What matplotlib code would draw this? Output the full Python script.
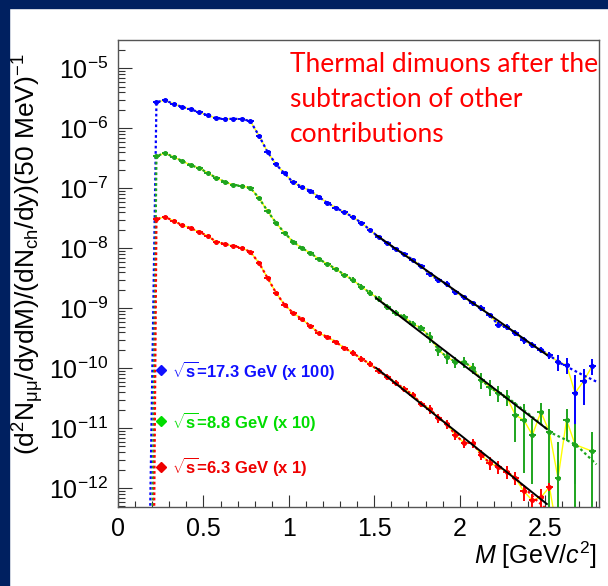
import numpy as np
import matplotlib
matplotlib.use("Agg")
import matplotlib.pyplot as plt
from matplotlib.patches import Rectangle
from matplotlib.ticker import FixedLocator, MultipleLocator, NullFormatter, LogFormatterSciNotation

plt.rcParams['font.family'] = ['Liberation Sans', 'DejaVu Sans']
plt.rcParams['mathtext.fontset'] = 'custom'
plt.rcParams['mathtext.rm'] = 'Liberation Sans'
plt.rcParams['mathtext.it'] = 'Liberation Sans:italic'
plt.rcParams['mathtext.bf'] = 'Liberation Sans:bold'

# ---------------- data ----------------
# bin centres of the invariant-mass spectrum, GeV/c^2 (50 MeV bins)
mass = np.round(np.arange(0.225, 2.80, 0.05), 3)

# log10 of the yields (sqrt(s)=17.3 x100, 8.8 x10, 6.3 x1)
blue_log10 = [-5.56, -5.53, -5.59, -5.64, -5.68, -5.73, -5.78, -5.83, -5.84, -5.84, -5.84, -5.88,
              -6.12, -6.39, -6.60, -6.75, -6.90, -6.97, -7.04, -7.14, -7.24, -7.32, -7.40,
              -7.475, -7.575, -7.69, -7.81, -7.91, -8.01, -8.09, -8.19, -8.29, -8.43, -8.53, -8.59,
              -8.73, -8.81, -8.91, -8.99, -9.11, -9.27, -9.31, -9.41, -9.53, -9.61, -9.69, -9.78,
              -9.89, -9.94, -10.41, -10.21, -9.96]
green_log10 = [-6.46, -6.41, -6.475, -6.54, -6.61, -6.66, -6.74, -6.825, -6.89, -6.94, -6.96, -6.99,
               -7.16, -7.375, -7.575, -7.74, -7.89, -7.99, -8.075, -8.175, -8.26, -8.34, -8.44,
               -8.525, -8.64, -8.74, -8.84, -8.975, -9.075, -9.14, -9.26, -9.325, -9.475, -9.69, -9.81,
               -9.89, -9.89, -9.99, -10.19, -10.31, -10.41, -10.475, -10.775, -10.86, -11.11, -10.725,
               -11.06, -11.83, -10.86, -11.27, np.nan, -11.38]
red_log10 = [-7.51, -7.475, -7.54, -7.61, -7.66, -7.725, -7.79, -7.89, -7.925, -7.96, -7.99, -8.06,
             -8.24, -8.49, -8.74, -8.94, -9.075, -9.175, -9.29, -9.41, -9.475, -9.56, -9.66,
             -9.74, -9.84, -9.925, -10.04, -10.14, -10.24, -10.34, -10.44, -10.59, -10.675, -10.825,
             -10.925, -11.11, -11.24, -11.24, -11.44, -11.575, -11.64, -11.72, -11.825, -12.05, -12.2,
             -12.15, -11.975, -12.8, np.nan, np.nan, np.nan, np.nan]

# relative (symmetric) errors
blue_relerr = [0.04] * 23 + [0.08] * 9 + [0.10] * 9 + [0.12] * 6 + [0.3, 0.3, 0.97, 0.6, 0.3]
green_relerr = [0.04] * 23 + [0.12] * 9 + [0.22] * 6 + [0.3] * 4 + \
               [0.65, 0.87, 0.85, 0.4, 1.4, 3.0, 0.55, 1.2, np.nan, 1.1]
red_relerr = [0.05] * 23 + [0.10] * 9 + [0.18] * 7 + [0.25] * 4 + \
             [0.3, 0.3, 0.4, 0.15, 0.3, np.nan, np.nan, np.nan, np.nan]

# model (dotted) curves: low-mass onset and high-mass tails
blue_onset = (0.185, -13.0)
green_onset = (0.200, -13.0)
red_onset = (0.210, -13.0)
blue_model_cut, green_model_cut, red_model_cut = 2.575, 2.275, 2.325
blue_tail_m, blue_tail_log10 = [2.64, 2.72, 2.80], [-9.99, -10.11, -10.22]
green_tail_m, green_tail_log10 = [2.40, 2.54, 2.68, 2.80], [-10.75, -11.08, -11.27, -11.60]
red_tail_m, red_tail_log10 = [2.45, 2.55], [-12.20, -12.45]

# exponential fits (black lines): end points
fit_m = [1.51, 2.51]
blue_fit_log10 = [-7.775, -9.775]
green_fit_log10 = [-8.825, -11.01]
red_fit_log10 = [-9.99, -12.26]

y_decades = [-12, -11, -10, -9, -8, -7, -6, -5]
legend_labels = ["=17.3 GeV (x 100)", "=8.8 GeV (x 10)", "=6.3 GeV (x 1)"]
note_lines = ["Thermal dimuons after the", "subtraction of other", "contributions"]

# ---------------- figure ----------------
W, H = 608, 586
fig = plt.figure(figsize=(W / 100, H / 100), dpi=100)
fig.patch.set_facecolor('white')
fig.patches.append(Rectangle((0, 0), 9 / W, 1, transform=fig.transFigure, color='#002060', zorder=0))
fig.patches.append(Rectangle((0, 1 - 8 / H), 1, 8 / H, transform=fig.transFigure, color='#002060', zorder=0))

ax = fig.add_axes([118 / W, 1 - 507 / H, 481 / W, 467 / H])
ax.set_yscale('log')
ax.set_xlim(0, 2.815)
ax.set_ylim(10 ** -12.31, 10 ** -4.525)

series = [
    (blue_log10, blue_relerr, '#0000ff', blue_onset, blue_model_cut, blue_tail_m, blue_tail_log10, blue_fit_log10),
    (green_log10, green_relerr, '#1ea51e', green_onset, green_model_cut, green_tail_m, green_tail_log10, green_fit_log10),
    (red_log10, red_relerr, '#ff0000', red_onset, red_model_cut, red_tail_m, red_tail_log10, red_fit_log10),
]

for lg, rel, col, onset, cut, tm, tl, fl in series:
    y = 10 ** np.array(lg, dtype=float)
    e = y * np.array(rel, dtype=float)
    ok = ~np.isnan(y)
    # thin yellow spectrum line
    ax.plot(mass[ok], y[ok], color='#ffff00', lw=1.0, zorder=2)
    # dotted model curve
    sel = ok & (mass <= cut + 1e-9)
    mx = np.concatenate([[onset[0]], mass[sel], tm])
    my = np.concatenate([[10 ** onset[1]], y[sel], 10 ** np.array(tl)])
    ax.plot(mx, my, color=col, lw=1.6, ls=(0, (1.2, 1.2)), zorder=3)
    # data points
    ax.errorbar(mass[ok], y[ok], yerr=e[ok], xerr=0.02, fmt='o', ms=2.6, color=col,
                ecolor=col, elinewidth=1.4, capsize=0, zorder=5)
    # fit
    ax.plot(fit_m, 10 ** np.array(fl), color='black', lw=1.4, zorder=6)

# axes styling (ROOT-like)
for s in ax.spines.values():
    s.set_color('#555555')
    s.set_linewidth(1.0)
ax.yaxis.set_major_locator(FixedLocator([10.0 ** d for d in y_decades]))
minor = [k * 10.0 ** d for d in [-13] + y_decades for k in range(2, 10)
         if 10 ** -12.31 < k * 10.0 ** d < 10 ** -4.525]
ax.yaxis.set_minor_locator(FixedLocator(minor))
ax.yaxis.set_major_formatter(LogFormatterSciNotation())
ax.yaxis.set_minor_formatter(NullFormatter())
ax.xaxis.set_major_locator(FixedLocator([0, 0.5, 1, 1.5, 2, 2.5]))
ax.xaxis.set_minor_locator(MultipleLocator(0.1))
ax.tick_params(which='both', direction='in', top=False, right=False, colors='#333333', width=0.8,
               labelcolor='black', labelsize=18)
ax.tick_params(axis='y', which='major', length=10, pad=7)
ax.tick_params(axis='y', which='minor', length=5)
ax.tick_params(axis='x', which='major', length=8.5, pad=7)
ax.tick_params(axis='x', which='minor', length=4)
ax.xaxis.set_major_formatter(matplotlib.ticker.FuncFormatter(lambda v, p: f"{v:g}"))

ax.set_ylabel(r"(d$^{2}$N$_{\mathrm{μμ}}$/dydM)/(dN$_{\rm ch}$/dy)(50 MeV)$^{-1}$", fontsize=19)
ax.yaxis.set_label_coords(-0.150, 0.542)

fig.text(597 / W, 1 - 555 / H, r"$M$ [GeV/$c^{2}$]", ha='right', va='center', fontsize=18)

# legend
leg_cols = ['#1010ff', '#00dd00', '#ee0000']
leg_y = [0.293, 0.184, 0.086]
for lab, c, yy in zip(legend_labels, leg_cols, leg_y):
    ax.plot([0.089], [yy], marker='D', ms=5, color=c, transform=ax.transAxes, clip_on=False, zorder=7)
    ax.text(0.112, yy, r"$\sqrt{\mathbf{s}}$" + lab, transform=ax.transAxes, color=c,
            fontsize=12, fontweight='bold', va='center', ha='left', zorder=7)

# annotation
for line, yb in zip(note_lines, [72, 107, 142]):
    fig.text(290 / W, 1 - yb / H, line, color='#ff0000', fontsize=19, family='Lato',
             ha='left', va='baseline')

fig.savefig('out.png', dpi=100)
